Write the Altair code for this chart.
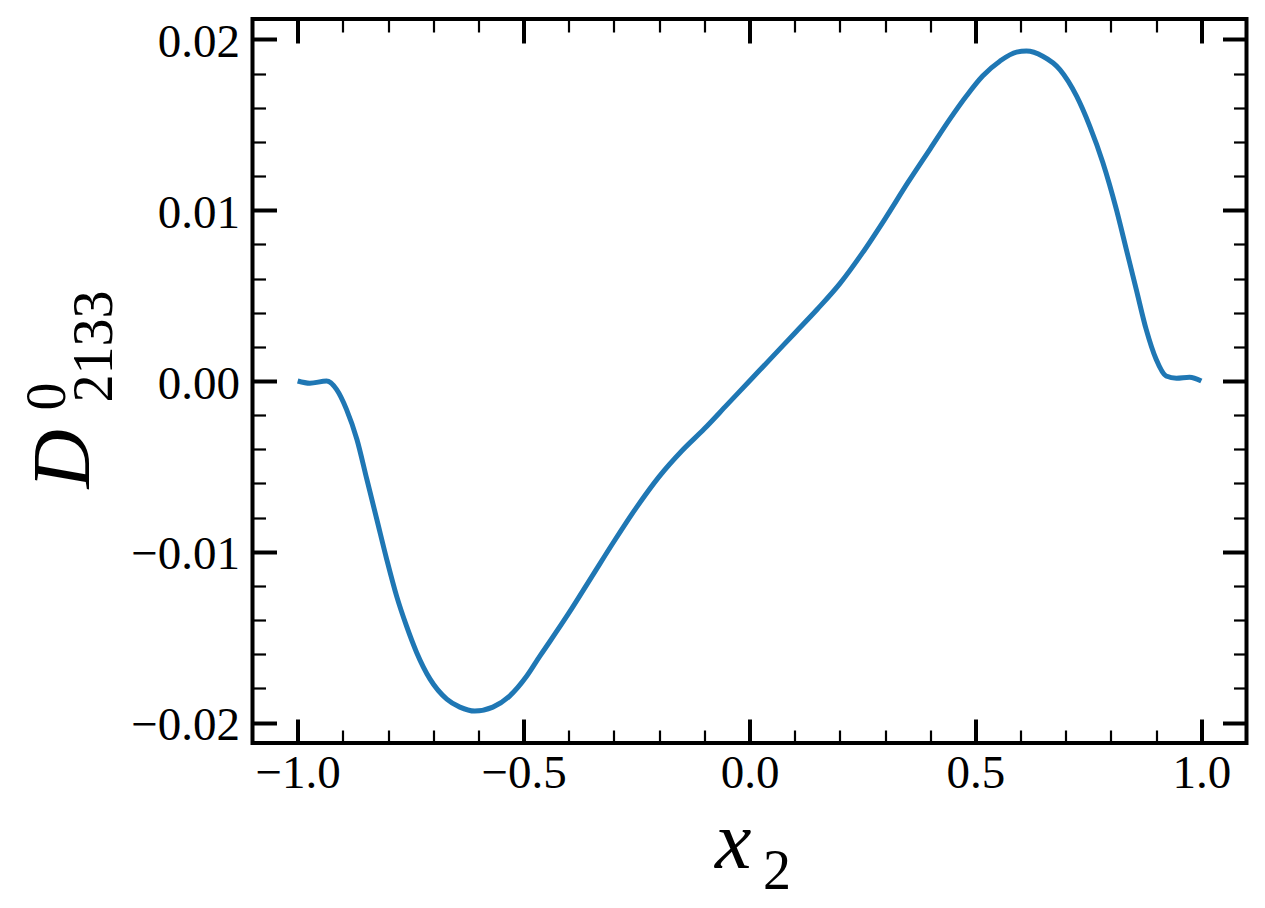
import altair as alt
import pandas as pd

# ---- data ----
x_vals = [-1.0, -0.973, -0.936, -0.914, -0.892, -0.869, -0.847, -0.825, -0.803, -0.781,
          -0.759, -0.737, -0.707, -0.670, -0.641, -0.608, -0.568, -0.531, -0.493, -0.464,
          -0.443, -0.40, -0.35, -0.30, -0.25, -0.20, -0.15, -0.10, -0.05, 0.0,
          0.05, 0.10, 0.15, 0.20, 0.25, 0.30, 0.35, 0.40,
          0.443, 0.480, 0.516, 0.554, 0.591, 0.613, 0.649, 0.687, 0.724, 0.753,
          0.782, 0.812, 0.834, 0.856, 0.878, 0.900, 0.922, 0.945, 0.974, 1.0]
y_vals = [0.0, -0.00013, 0.0, -0.00049, -0.00166, -0.00341, -0.00575, -0.00809, -0.01044, -0.0126,
          -0.01436, -0.01588, -0.01746, -0.01863, -0.0191, -0.01933, -0.0191, -0.01845, -0.01728, -0.01611,
          -0.0153, -0.0136, -0.0115, -0.0094, -0.0074, -0.0056, -0.0041, -0.0028, -0.0014, 0.0,
          0.0014, 0.0028, 0.0042, 0.0057, 0.0075, 0.0095, 0.0116, 0.0136,
          0.01532, 0.01669, 0.01786, 0.01873, 0.01926, 0.01932, 0.01902, 0.01824, 0.01668, 0.01493,
          0.01280, 0.01005, 0.00771, 0.00537, 0.00302, 0.00127, 0.00029, 0.00016, 0.00022, 0.0]

x_major = [-1.0, -0.5, 0.0, 0.5, 1.0]
x_minor = [-0.9, -0.8, -0.7, -0.6, -0.4, -0.3, -0.2, -0.1,
           0.1, 0.2, 0.3, 0.4, 0.6, 0.7, 0.8, 0.9]
y_major = [-0.02, -0.01, 0.0, 0.01, 0.02]
y_minor = [-0.018, -0.016, -0.014, -0.012, -0.008, -0.006, -0.004, -0.002,
           0.002, 0.004, 0.006, 0.008, 0.012, 0.014, 0.016, 0.018]

x_title = "x"
x_title_sub = "2"
y_title = "D"
y_title_sup = "0"
y_title_sub = "2133"

df = pd.DataFrame({"x": x_vals, "y": y_vals})

FONT = "Liberation Serif"
MINUS = "replace(datum.label, '-', '\u2212')"
MAJ_LEN, MAJ_W = 24, 4
MIN_LEN, MIN_W = 13, 2.2

xs = alt.Scale(domain=[-1.1, 1.1], nice=False, zero=False)
ys = alt.Scale(domain=[-0.0212, 0.0212], nice=False, zero=False)


def tick_axis(orient, values, size, width):
    return alt.Axis(orient=orient, values=values, ticks=True, tickSize=size,
                    tickWidth=width, tickColor="black", tickCap="butt",
                    offset=-size, labels=False, domain=False, grid=False, title="")


def title_axis(orient, text, size, tx, ty, angle, italic=False, color="black"):
    return alt.Axis(orient=orient, ticks=False, labels=False, domain=False, grid=False,
                    title=text, titleFont=FONT, titleFontSize=size,
                    titleFontStyle="italic" if italic else "normal",
                    titleFontWeight="normal", titleColor=color,
                    titleX=tx, titleY=ty, titleAngle=angle,
                    titleAlign="left", titleBaseline="alphabetic")


x_label_axis = alt.Axis(orient="bottom", values=x_major, format=".1f", labelExpr=MINUS,
                        ticks=False, domain=False, grid=False,
                        labelFont=FONT, labelFontSize=47, labelColor="black",
                        labelBaseline="alphabetic", labelPadding=44, labelFlush=False,
                        labelOverlap=False,
                        title=x_title, titleFont=FONT, titleFontSize=82,
                        titleFontStyle="italic", titleFontWeight="normal", titleColor="black",
                        titleX=462, titleY=124, titleAngle=0,
                        titleAlign="left", titleBaseline="alphabetic")

y_label_axis = alt.Axis(orient="left", values=y_major, format=".2f", labelExpr=MINUS,
                        ticks=False, domain=False, grid=False,
                        labelFont=FONT, labelFontSize=47, labelColor="black",
                        labelBaseline="alphabetic", labelOffset=17, labelPadding=13,
                        labelFlush=False, labelOverlap=False,
                        title=y_title, titleFont=FONT, titleFontSize=82,
                        titleFontStyle="italic", titleFontWeight="normal", titleColor="black",
                        titleX=-164, titleY=469, titleAngle=270,
                        titleAlign="left", titleBaseline="alphabetic")

base = alt.Chart(df)


def layer(xaxis, yaxis, visible=False):
    if visible:
        m = base.mark_line(color="#1f77b4", strokeWidth=5, interpolate="monotone")
    else:
        m = base.mark_line(strokeOpacity=0)
    return m.encode(
        x=alt.X("x:Q", scale=xs, axis=xaxis),
        y=alt.Y("y:Q", scale=ys, axis=yaxis),
    )


layers = [
    layer(x_label_axis, y_label_axis, visible=True),
    layer(tick_axis("bottom", x_major, MAJ_LEN, MAJ_W), tick_axis("left", y_major, MAJ_LEN, MAJ_W)),
    layer(tick_axis("bottom", x_minor, MIN_LEN, MIN_W), tick_axis("left", y_minor, MIN_LEN, MIN_W)),
    layer(tick_axis("top", x_major, MAJ_LEN, MAJ_W), tick_axis("right", y_major, MAJ_LEN, MAJ_W)),
    layer(tick_axis("top", x_minor, MIN_LEN, MIN_W), tick_axis("right", y_minor, MIN_LEN, MIN_W)),
    layer(title_axis("bottom", x_title_sub, 56, 510, 145, 0),
          title_axis("left", y_title_sup, 56, -188, 391, 270)),
    layer(None, title_axis("left", y_title_sub, 56, -141, 383, 270)),
]

chart = alt.layer(*layers).resolve_axis(x="independent", y="independent").properties(
    width=994,
    height=724,
    autosize=alt.AutoSizeParams(type="none"),
    padding={"left": 244.5, "top": 11, "right": 6, "bottom": 157},
).configure(background="white").configure_view(stroke="black", strokeWidth=4)

chart.save("out.html", embed_options={"renderer": "svg", "actions": False})
